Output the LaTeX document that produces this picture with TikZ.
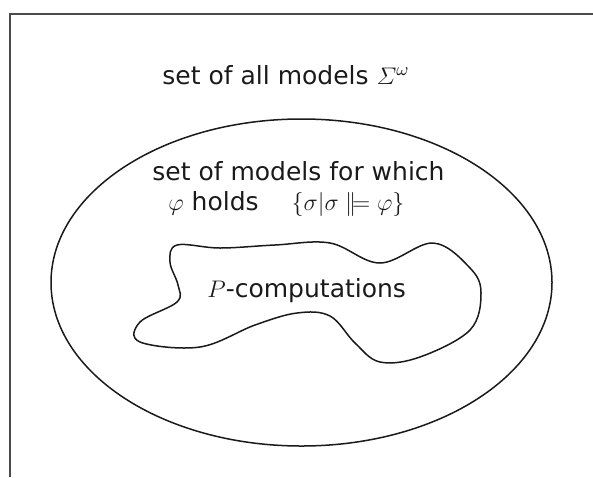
\documentclass[tikz,border=0pt]{standalone}
\usepackage{fontspec}
\usepackage{amsmath,amssymb}
\setmainfont{DejaVu Sans}
\usetikzlibrary{positioning}
\definecolor{Ink}{HTML}{1A1A1A}
\definecolor{Frame}{HTML}{4A4A4A}
\newcommand{\sat}{\mathrel{\mathord{|}\mkern-2mu\mathord{\models}}}

\begin{document}
\begin{tikzpicture}[x=0.5pt,y=-0.5pt,
    lbl/.style={font=\fontsize{12.5}{15}\selectfont,inner sep=0pt,anchor=base west,Ink},
    region/.style={Ink,line width=0.75pt}]
  \useasboundingbox (0,0) rectangle (593,477);
  % frame
  \draw[Frame,line width=0.9pt] (593,14) -- (10,14) -- (10,477);
  % outer region
  \draw[region] (301.5,282.5) ellipse [x radius=250.5, y radius=163.5];
  % P-computations
  \draw[region] plot[smooth cycle,tension=0.6] coordinates {
    (177,245) (220,248) (275,245) (330,243) (380,263) (433,243)
    (470,268) (481,293) (470,330) (420,357) (380,362) (355,343)
    (330,316) (297,313) (255,325) (200,347) (140,342) (140,322)
    (177,302) (178,285) (170,262)};
  \node[lbl] (all) at (162,84) {set of all models $\varSigma^{\omega}$};
  \node[lbl] (models) at (152,180) {set of models for which};
  \node[lbl] (holds) at (168,210) {$\varphi$ holds\quad\ $\{\sigma|\sigma\sat\varphi\}$};
  \node[lbl] (comp) at (207,297) {$P$-computations};
\end{tikzpicture}
\end{document}
